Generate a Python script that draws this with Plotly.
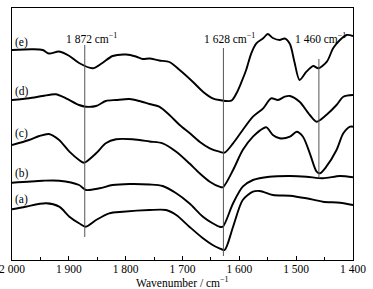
import plotly.graph_objects as go

# Wavenumber (cm^-1) and stacked transmittance (a.u.)
wn_e = [2000, 1964, 1946, 1935, 1917, 1899, 1882, 1858, 1841, 1823, 1799, 1782, 1770, 1758, 1741, 1723,
        1705, 1682, 1664, 1647, 1635, 1614, 1605, 1596, 1588, 1579, 1570, 1558, 1550, 1541, 1529, 1520,
        1511, 1503, 1494, 1482, 1470, 1461, 1446, 1435, 1423, 1411, 1400]
t_e = [210, 210.7, 210, 206.5, 208.5, 204, 197, 191.7, 197, 204, 205.5, 203.5, 201, 201.5, 199.5, 198,
       190, 178.3, 168.3, 161.7, 160, 159.3, 166.7, 178.3, 190, 206.7, 216.7, 221.7, 226, 222, 220, 221.5,
       216, 198, 180, 188.3, 194, 191.7, 198.3, 211.7, 220, 225, 224]

wn_d = [2000, 1970, 1946, 1923, 1905, 1882, 1870, 1852, 1835, 1817, 1793, 1776, 1758, 1741, 1723, 1705,
        1687, 1670, 1652, 1635, 1626, 1611, 1594, 1576, 1558, 1544, 1532, 1520, 1511, 1494, 1476, 1464,
        1447, 1429, 1417, 1400]
t_d = [160, 161.7, 164, 165.7, 161.7, 155, 153.3, 154, 159, 160, 161, 159, 156, 153.3, 145, 135,
       126.7, 118.3, 111.7, 108.3, 107.3, 116.7, 130, 143.3, 151.7, 161.7, 160, 163.3, 164, 158.3, 145, 138.3,
       145, 155, 163.3, 165]

wn_c = [2000, 1970, 1952, 1935, 1917, 1899, 1882, 1873, 1852, 1835, 1817, 1788, 1758, 1735, 1711, 1688,
        1670, 1652, 1635, 1629, 1611, 1594, 1576, 1558, 1552, 1541, 1529, 1511, 1499, 1488, 1476, 1464,
        1458, 1447, 1429, 1417, 1405, 1400]
t_c = [115, 120, 124, 126, 120, 108.3, 100, 97.3, 106.7, 116.7, 120.7, 120.7, 118.5, 116.7, 108.3, 96.7,
       86.7, 78.3, 73.3, 72.7, 90, 110, 123.3, 131.7, 132.7, 125, 121.7, 123.3, 128.3, 123.3, 106.7, 88.3,
       86.7, 93.3, 110, 126.7, 133.3, 133.3]

wn_b = [2000, 1946, 1917, 1882, 1870, 1846, 1823, 1793, 1758, 1735, 1711, 1688, 1664, 1647, 1635, 1629,
        1611, 1594, 1576, 1547, 1511, 1482, 1453, 1423, 1400]
t_b = [77.3, 79.3, 79.3, 75, 70, 71.7, 75, 76, 75.5, 74, 66.7, 56.7, 43.3, 36.7, 33.3, 33.3,
       56.7, 73.3, 80, 83.3, 84, 83.3, 81.7, 84, 82.7]

wn_a = [2000, 1976, 1940, 1917, 1899, 1882, 1870, 1852, 1829, 1805, 1758, 1729, 1711, 1688, 1664, 1647,
        1635, 1626, 1611, 1594, 1576, 1564, 1541, 1511, 1482, 1453, 1423, 1400]
t_a = [50.7, 53.3, 56.7, 53.3, 43.3, 36.7, 33.3, 40, 46.7, 48.3, 50, 50, 45, 33.3, 21.7, 15,
       11.7, 10, 33.3, 60, 68.3, 69, 65, 64.3, 61.7, 58.3, 57.3, 55]

curve_labels = ["(a)", "(b)", "(c)", "(d)", "(e)"]
label_y = [60.7, 87, 127, 168.3, 217.3]

peak_wn = [1872, 1628, 1460]
peak_text = ["1 872 cm<sup>−1</sup>", "1 628 cm<sup>−1</sup>", "1 460 cm<sup>−1</sup>"]
peak_line_top = [215, 212, 201]
peak_line_bottom = [23, 4, 82]
peak_label_y = [222, 222, 222]
peak_label_shift = [7, 6, 2]

x_tick_vals = [2000, 1900, 1800, 1700, 1600, 1500, 1400]
x_tick_text = ["2 000", "1 900", "1 800", "1 700", "1 600", "1 500", "1 400"]

FONT = "Liberation Serif"

fig = go.Figure()
for wn, t in [(wn_a, t_a), (wn_b, t_b), (wn_c, t_c), (wn_d, t_d), (wn_e, t_e)]:
    fig.add_trace(go.Scatter(x=wn, y=t, mode="lines",
                             line=dict(color="black", width=1.9, shape="spline", smoothing=0.8),
                             showlegend=False, hoverinfo="skip"))

for wn, top, bot in zip(peak_wn, peak_line_top, peak_line_bottom):
    fig.add_shape(type="line", x0=wn, x1=wn, y0=bot, y1=top, xref="x", yref="y",
                  line=dict(color="#555555", width=1))

for wn, txt, ly, sh in zip(peak_wn, peak_text, peak_label_y, peak_label_shift):
    fig.add_annotation(x=wn, y=ly, text=txt, showarrow=False, xref="x", yref="y",
                       xanchor="center", yanchor="middle", xshift=sh,
                       font=dict(family=FONT, size=11.5, color="black"))

for lab, ly in zip(curve_labels, label_y):
    fig.add_annotation(x=1983, y=ly, text=lab, showarrow=False, xref="x", yref="y",
                       xanchor="center", yanchor="middle",
                       font=dict(family=FONT, size=11.5, color="black"))

fig.add_annotation(x=0.5, y=0, xref="paper", yref="paper", yshift=-22,
                   text="Wavenumber / cm<sup>−1</sup>", showarrow=False,
                   xanchor="center", yanchor="middle",
                   font=dict(family=FONT, size=11.5, color="black"))

fig.update_layout(
    width=373, height=289,
    margin=dict(l=12, r=20, t=8, b=29),
    paper_bgcolor="white", plot_bgcolor="white",
    font=dict(family=FONT, size=11.5, color="black"),
    xaxis=dict(range=[2000, 1400], tickvals=x_tick_vals, ticktext=x_tick_text,
               ticks="inside", ticklen=4, tickwidth=1, tickcolor="black",
               minor=dict(dtick=50, tick0=2000, ticks="inside", ticklen=3, tickcolor="black"),
               showline=True, linecolor="black", linewidth=1, mirror=True,
               showgrid=False, zeroline=False, ticklabeloverflow="allow",
               ticklabelstandoff=-2, automargin=False,
               tickfont=dict(family=FONT, size=11.5)),
    yaxis=dict(range=[0, 252], showticklabels=False, ticks="",
               showline=True, linecolor="black", linewidth=1, mirror=True,
               showgrid=False, zeroline=False, automargin=False),
)

fig.write_html("out.html", config={"displayModeBar": False},
               post_script="document.body.style.margin='0px';")
